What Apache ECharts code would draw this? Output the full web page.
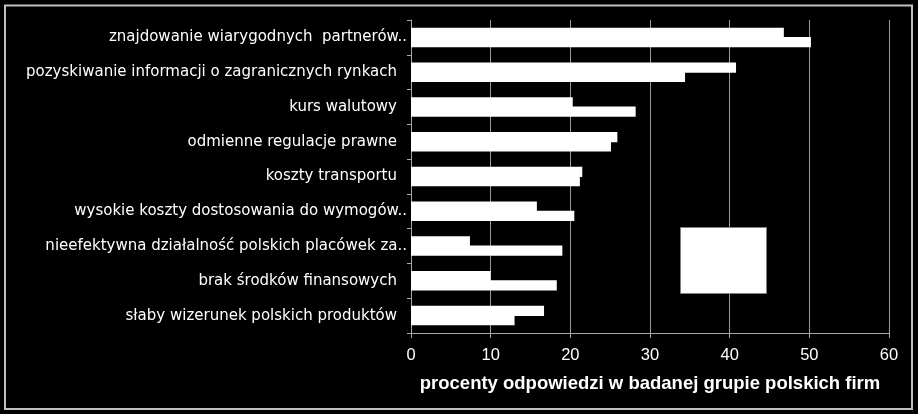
<!DOCTYPE html>
<html><head><meta charset="utf-8">
<script src="https://cdn.jsdelivr.net/npm/echarts@6/dist/echarts.min.js"></script>
<style>html,body{margin:0;padding:0;background:#000}#c{width:918px;height:414px}</style>
</head><body><div id="c"></div>
<script>
const categories = [
  'znajdowanie wiarygodnych  partnerów..',
  'pozyskiwanie informacji o zagranicznych rynkach',
  'kurs walutowy',
  'odmienne regulacje prawne',
  'koszty transportu',
  'wysokie koszty dostosowania do wymogów..',
  'nieefektywna działalność polskich placówek za..',
  'brak środków finansowych',
  'słaby wizerunek polskich produktów'
];
const seriesA = [46.8, 40.8, 20.3, 25.9, 21.5, 15.8, 7.4, 10.0, 16.7];
const seriesB = [50.2, 34.4, 28.2, 25.1, 21.2, 20.5, 19.0, 18.3, 13.0];
const xAxisTitle = 'procenty odpowiedzi w badanej grupie polskich firm';
const xMin = 0, xMax = 60, xStep = 10;

const chart = echarts.init(document.getElementById('c'));
const barStyle = { color: '#ffffff', borderWidth: 0 };
chart.setOption({
  backgroundColor: '#000000',
  animation: false,
  grid: { left: 411, right: 29, top: 20, bottom: 81, containLabel: false },
  xAxis: {
    type: 'value', min: xMin, max: xMax, interval: xStep,
    axisLine: { show: true, lineStyle: { color: '#a8a8a8', width: 1 } },
    axisTick: { show: true, length: 5, lineStyle: { color: '#a8a8a8' } },
    splitLine: { show: true, lineStyle: { color: '#999999', width: 1 } },
    axisLabel: { color: '#ffffff', fontFamily: 'Liberation Sans', fontSize: 16.5, margin: 14 },
    name: xAxisTitle, nameLocation: 'middle', nameGap: 41,
    nameTextStyle: { color: '#ffffff', fontFamily: 'Liberation Sans', fontWeight: 'bold', fontSize: 18.5 }
  },
  yAxis: {
    type: 'category', inverse: true,
    data: categories.map(c => c.endsWith('..') ? c : { value: c, textStyle: { padding: [0, 10, 0, 0] } }),
    axisLine: { show: true, lineStyle: { color: '#a8a8a8', width: 1 } },
    axisTick: { show: true, length: 4, inside: false, lineStyle: { color: '#a8a8a8' } },
    splitLine: { show: false },
    axisLabel: { color: '#ffffff', fontFamily: 'DejaVu Sans', fontSize: 15, margin: 4 }
  },
  series: [
    { name: 'A', type: 'bar', data: seriesA, itemStyle: barStyle, barGap: '-10%', barCategoryGap: '44%' },
    { name: 'B', type: 'bar', data: seriesB, itemStyle: barStyle, barGap: '-10%', barCategoryGap: '44%' }
  ],
  graphic: [
    { type: 'rect', shape: { x: 5, y: 5.5, width: 907, height: 403.5 }, style: { fill: 'none', stroke: '#c0c0c0', lineWidth: 2 }, silent: true },
    { type: 'rect', shape: { x: 680.5, y: 227.5, width: 86, height: 66 }, style: { fill: '#ffffff', stroke: '#808080', lineWidth: 1 }, silent: true, z: 10 }
  ]
});
</script></body></html>
